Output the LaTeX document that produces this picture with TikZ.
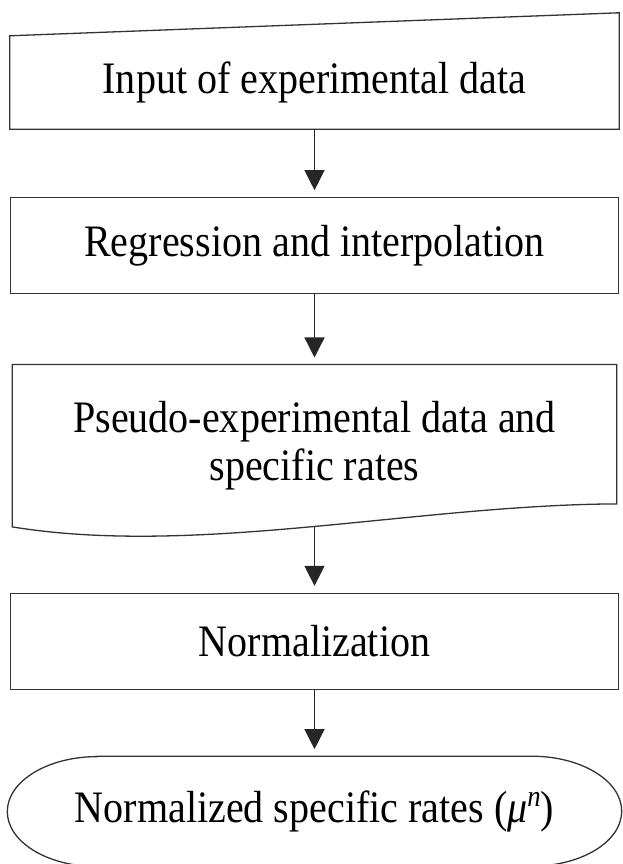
\documentclass[tikz,border=0pt]{standalone}
\usepackage{fontspec}
\setmainfont{Liberation Serif}[FakeStretch=0.89]
\usetikzlibrary{arrows.meta,positioning,calc}

\begin{document}
\begin{tikzpicture}[
  x=1pt,y=1pt,
  font=\fontsize{45}{54}\selectfont,
  >={Triangle[length=20pt,width=20pt]},
  box/.style={rectangle,align=center,inner sep=0pt},
  proc/.style={box,draw=black!80,line width=1.3pt,minimum width=608pt,minimum height=96pt},
  outline/.style={draw=black!80,line width=1.3pt},
  arr/.style={->,line width=1.3pt,draw=black!85,shorten >=7pt}
]
\useasboundingbox (0,0) rectangle (623,864);

\node[box,minimum width=609pt,minimum height=93pt] (input) at (314.5,781.5) {Input of experimental data};
\node[proc,below=68pt of input] (regress) {Regression and interpolation};
\node[box,minimum width=604pt,minimum height=162pt,below=70pt of regress,font=\fontsize{45}{48}\selectfont] (pseudo) {Pseudo-experimental data and\\specific rates};
\node[proc,below=66pt of pseudo] (norm) {Normalization};
\node[box,minimum width=614pt,minimum height=110pt,below=66pt of norm] (result)
  {Normalized specific rates ({\itshape μ}\raisebox{16pt}{\fontsize{30}{30}\selectfont\itshape n})};

% manual input, document and terminal outlines
\draw[outline] (input.south west) -- (input.north west) -- ($(input.north east)+(0,23)$) -- (input.south east) -- cycle;
\draw[outline] (pseudo.south west) -- (pseudo.north west) -- (pseudo.north east) -- ($(pseudo.south east)+(0,23)$)
  .. controls +(-200,-1) and +(184,-30) .. (pseudo.south west) -- cycle;
\draw[outline] ($(result.north west)+(90,0)$) -- ($(result.north east)+(-90,0)$)
  arc[start angle=90,end angle=-90,x radius=90pt,y radius=55pt]
  -- ($(result.south west)+(90,0)$)
  arc[start angle=270,end angle=90,x radius=90pt,y radius=55pt] -- cycle;

\draw[arr] (input) -- (regress);
\draw[arr] (regress) -- (pseudo);
\draw[arr] (pseudo) -- (norm);
\draw[arr] (norm) -- (result);
\end{tikzpicture}
\end{document}
